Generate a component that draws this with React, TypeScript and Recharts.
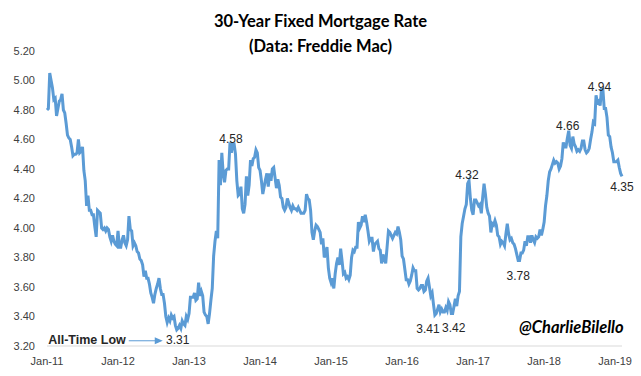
import { LineChart, Line, XAxis, YAxis, ReferenceDot } from "recharts";

// Freddie Mac PMMS 30-year fixed, weekly, starting week of Jan 27 2011
const rates2011 = [
  4.8, 4.81, 5.05, 5.0, 4.95, 4.87, 4.88, 4.76, 4.81, 4.86, 4.87, 4.91, 4.8,
  4.78, 4.71, 4.63, 4.61, 4.6, 4.55, 4.49, 4.5, 4.5, 4.51, 4.6, 4.51, 4.52,
  4.55, 4.39, 4.32, 4.15, 4.22, 4.12, 4.12, 4.09, 4.09, 4.01, 3.94, 4.12, 4.11,
  4.1, 4.0, 3.99, 4.0, 3.98, 4.0, 3.99, 3.94, 3.91, 3.95,
];
const rates2012 = [
  3.91, 3.89, 3.88, 3.98, 3.87, 3.87, 3.92, 3.95, 3.9, 3.88, 3.92, 4.08, 3.99,
  3.98, 3.88, 3.9, 3.88, 3.84, 3.83, 3.79, 3.78, 3.75, 3.67, 3.71, 3.66, 3.66,
  3.62, 3.56, 3.53, 3.49, 3.55, 3.59, 3.62, 3.66, 3.59, 3.55, 3.55, 3.49, 3.4,
  3.36, 3.39, 3.37, 3.41, 3.39, 3.4, 3.34, 3.31, 3.32, 3.34, 3.32, 3.37, 3.35,
];
const rates2013 = [
  3.34, 3.4, 3.38, 3.42, 3.53, 3.53, 3.53, 3.56, 3.51, 3.52, 3.63, 3.54, 3.57,
  3.54, 3.43, 3.41, 3.4, 3.35, 3.42, 3.51, 3.59, 3.81, 3.91, 3.98, 3.93, 4.46,
  4.29, 4.51, 4.37, 4.31, 4.39, 4.4, 4.4, 4.58, 4.51, 4.57, 4.57, 4.5, 4.32,
  4.22, 4.23, 4.28, 4.13, 4.1, 4.16, 4.35, 4.22, 4.29, 4.46, 4.42, 4.47, 4.48,
];
const rates2014 = [
  4.53, 4.51, 4.41, 4.39, 4.32, 4.23, 4.28, 4.33, 4.37, 4.28, 4.37, 4.32, 4.4,
  4.41, 4.34, 4.27, 4.33, 4.29, 4.21, 4.2, 4.14, 4.12, 4.14, 4.2, 4.17, 4.14,
  4.12, 4.15, 4.13, 4.13, 4.12, 4.14, 4.12, 4.1, 4.1, 4.1, 4.12, 4.23, 4.2,
  4.19, 4.12, 3.97, 3.92, 3.98, 4.02, 4.01, 3.99, 3.97, 3.89, 3.93, 3.8, 3.83,
];
const rates2015 = [
  3.87, 3.73, 3.66, 3.63, 3.66, 3.59, 3.69, 3.76, 3.8, 3.75, 3.86, 3.78, 3.69,
  3.7, 3.66, 3.67, 3.65, 3.68, 3.8, 3.85, 3.84, 3.87, 3.87, 4.04, 4.0, 4.02,
  4.08, 4.04, 4.09, 4.04, 3.98, 3.91, 3.93, 3.93, 3.84, 3.89, 3.9, 3.91, 3.86,
  3.85, 3.76, 3.82, 3.79, 3.76, 3.87, 3.98, 3.97, 3.95, 3.93, 3.95, 3.97, 3.96,
  4.01,
];
const rates2016 = [
  3.97, 3.92, 3.81, 3.79, 3.72, 3.65, 3.65, 3.62, 3.64, 3.68, 3.73, 3.71, 3.71,
  3.59, 3.58, 3.59, 3.61, 3.61, 3.57, 3.58, 3.64, 3.66, 3.6, 3.54, 3.56, 3.48,
  3.41, 3.42, 3.45, 3.48, 3.43, 3.45, 3.43, 3.43, 3.46, 3.44, 3.5, 3.48, 3.42,
  3.42, 3.47, 3.52, 3.47, 3.54, 3.57, 3.94, 4.03, 4.08, 4.13, 4.16, 4.3, 4.32,
];
const rates2017 = [
  4.2, 4.12, 4.09, 4.19, 4.19, 4.17, 4.15, 4.16, 4.1, 4.21, 4.3, 4.23, 4.14,
  4.1, 4.08, 3.97, 4.03, 4.02, 4.05, 4.02, 3.95, 3.94, 3.89, 3.91, 3.9, 3.88,
  3.96, 4.03, 3.96, 3.92, 3.93, 3.9, 3.89, 3.86, 3.82, 3.78, 3.78, 3.83, 3.83,
  3.85, 3.91, 3.88, 3.94, 3.94, 3.9, 3.95, 3.92, 3.9, 3.94, 3.93, 3.94, 3.99,
];
const rates2018 = [
  3.95, 3.99, 4.04, 4.15, 4.22, 4.32, 4.38, 4.4, 4.43, 4.46, 4.44, 4.45, 4.44,
  4.4, 4.42, 4.47, 4.58, 4.55, 4.55, 4.61, 4.66, 4.56, 4.54, 4.62, 4.57, 4.55,
  4.52, 4.53, 4.52, 4.54, 4.59, 4.59, 4.53, 4.51, 4.52, 4.54, 4.6, 4.65, 4.72,
  4.71, 4.9, 4.85, 4.86, 4.83, 4.94, 4.94, 4.81, 4.81, 4.75, 4.63, 4.62, 4.55,
];
const rates2019 = [4.51, 4.45, 4.45, 4.45, 4.46, 4.41, 4.37, 4.35];

const rates = [
  ...rates2011, ...rates2012, ...rates2013, ...rates2014, ...rates2015,
  ...rates2016, ...rates2017, ...rates2018, ...rates2019,
];

// one label every 52 weeks
const xLabels = ["Jan-11", "Jan-12", "Jan-13", "Jan-14", "Jan-15", "Jan-16", "Jan-17", "Jan-18", "Jan-19"];
const yTicks = [3.2, 3.4, 3.6, 3.8, 4.0, 4.2, 4.4, 4.6, 4.8, 5.0, 5.2];

// week index of annotated points, text, label offset
const annotations = [
  { week: 95, text: "3.31", dx: 1, dy: 11 },
  { week: 134, text: "4.58", dx: 1, dy: -3 },
  { week: 284, text: "3.41", dx: -7, dy: 15 },
  { week: 297, text: "3.42", dx: 1, dy: 15 },
  { week: 309, text: "4.32", dx: -2, dy: -5 },
  { week: 345, text: "3.78", dx: 0, dy: 16 },
  { week: 382, text: "4.66", dx: -1, dy: -4 },
  { week: 406, text: "4.94", dx: -2, dy: -2 },
  { week: 421, text: "4.35", dx: 0, dy: 11 },
];

const data = rates.map((rate, week) => ({ week, rate }));
const BLUE = "#5b9bd5";

function Annot(props: any) {
  const { viewBox, text, dx, dy, low } = props;
  if (!viewBox) return null;
  const x = viewBox.x + viewBox.width / 2;
  const y = viewBox.y + viewBox.height / 2;
  return (
    <g>
      <text
        x={x + dx}
        y={y + dy}
        textAnchor="middle"
        dominantBaseline="middle"
        fontSize={12}
        fill="#262626"
        fontFamily="Liberation Sans, Arial, sans-serif"
      >
        {text}
      </text>
      {low && (
        <g>
          <text
            x={x - 51}
            y={y + dy}
            textAnchor="end"
            dominantBaseline="middle"
            fontSize={12.5}
            fontWeight="bold"
            fill="#262626"
            fontFamily="Liberation Sans, Arial, sans-serif"
          >
            All-Time Low
          </text>
          <line x1={x - 48} y1={y + dy} x2={x - 16} y2={y + dy} stroke={BLUE} strokeWidth={1} />
          <path
            d={`M ${x - 22} ${y + dy - 3.5} L ${x - 14} ${y + dy} L ${x - 22} ${y + dy + 3.5} Z`}
            fill={BLUE}
          />
        </g>
      )}
    </g>
  );
}

export default function App() {
  return (
    <div
      style={{
        position: "absolute",
        left: 0,
        top: 0,
        width: 641,
        height: 376,
        background: "#fff",
        fontFamily: "Lato, sans-serif",
      }}
    >
      <div
        style={{
          position: "absolute",
          top: 9,
          width: 641,
          textAlign: "center",
          fontWeight: 700,
          fontSize: 16.5,
          lineHeight: "25px",
          color: "#000",
        }}
      >
        30-Year Fixed Mortgage Rate
        <br />
        (Data: Freddie Mac)
      </div>
      <LineChart
        width={641}
        height={376}
        data={data}
        margin={{ top: 51, right: 19, left: 0, bottom: 0 }}
      >
        <XAxis
          dataKey="week"
          type="number"
          domain={[0, rates.length - 1]}
          ticks={xLabels.map((_, i) => i * 52)}
          tickFormatter={(v) => xLabels[Math.round(v / 52)]}
          interval={0}
          height={30}
          tickLine={false}
          axisLine={{ stroke: "#d9d9d9" }}
          tickMargin={5}
          tick={{ fill: "#404040", fontSize: 11, fontFamily: "Liberation Sans, Arial, sans-serif" }}
        />
        <YAxis
          domain={[3.2, 5.2]}
          ticks={yTicks}
          interval={0}
          width={47}
          tickLine={false}
          axisLine={false}
          tickMargin={6}
          tickFormatter={(v) => v.toFixed(2)}
          tick={{ fill: "#404040", fontSize: 11, fontFamily: "Liberation Sans, Arial, sans-serif" }}
        />
        <Line
          type="linear"
          dataKey="rate"
          stroke={BLUE}
          strokeWidth={3}
          dot={false}
          isAnimationActive={false}
        />
        {annotations.map((a) => (
          <ReferenceDot
            key={a.week}
            x={a.week}
            y={rates[a.week]}
            r={0}
            stroke="none"
            fill="none"
            label={<Annot text={a.text} dx={a.dx} dy={a.dy} low={a.week === 95} />}
          />
        ))}
      </LineChart>
      <div
        style={{
          position: "absolute",
          left: 519,
          top: 317,
          fontStyle: "italic",
          fontWeight: 700,
          fontSize: 16.5,
          color: "#000",
          whiteSpace: "nowrap",
        }}
      >
        @CharlieBilello
      </div>
    </div>
  );
}
